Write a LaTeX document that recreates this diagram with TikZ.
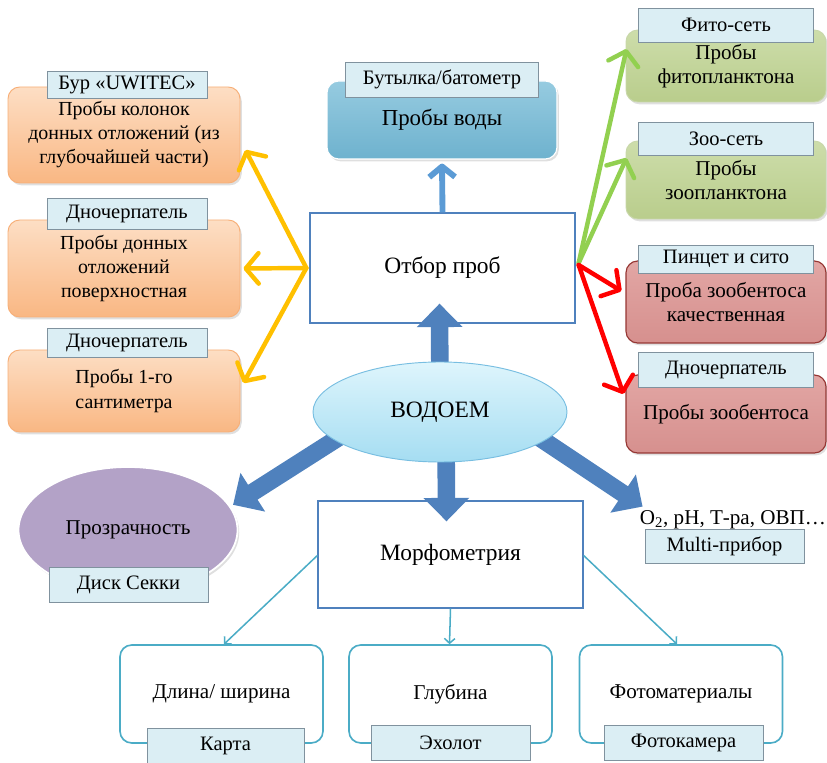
\documentclass[tikz,border=0pt]{standalone}
\usepackage{fontspec}
\setmainfont{Liberation Serif}
\usetikzlibrary{arrows.meta,shapes.geometric,shadows,calc}
\definecolor{orTop}{RGB}{253,222,196}
\definecolor{orBot}{RGB}{249,183,131}
\definecolor{orLine}{RGB}{247,175,120}
\definecolor{grTop}{RGB}{205,221,170}
\definecolor{grBot}{RGB}{185,205,140}
\definecolor{grLine}{RGB}{200,215,170}
\definecolor{rdTop}{RGB}{226,166,164}
\definecolor{rdBot}{RGB}{214,144,142}
\definecolor{rdLine}{RGB}{150,55,52}
\definecolor{wTop}{RGB}{150,203,224}
\definecolor{wBot}{RGB}{110,178,206}
\definecolor{labFill}{RGB}{219,238,244}
\definecolor{labLine}{RGB}{128,146,158}
\definecolor{blk}{RGB}{79,129,189}
\definecolor{upBlue}{RGB}{91,155,213}
\definecolor{orArrow}{RGB}{255,192,0}
\definecolor{grArrow}{RGB}{146,208,80}
\definecolor{rdArrow}{RGB}{255,0,0}
\definecolor{teal}{RGB}{75,172,198}
\definecolor{elTop}{RGB}{222,245,252}
\definecolor{elBot}{RGB}{165,221,242}
\definecolor{elLine}{RGB}{120,190,225}
\definecolor{purp}{RGB}{179,162,199}
\def\pxu{0.03cm}
\begin{document}
\begin{tikzpicture}[x=0.03cm,y=-0.03cm,
  base/.style={font=\fontsize{17.5}{20.5}\selectfont, align=center, inner sep=0pt},
  big/.style={font=\fontsize{20}{22}\selectfont},
  shad/.style={drop shadow={opacity=0.25, shadow xshift=1.5pt, shadow yshift=-2pt}},
  orbox/.style={base, font=\fontsize{17}{20.5}\selectfont, rounded corners=10pt, draw=orLine, line width=0.8pt, top color=orTop, bottom color=orBot, shad, minimum width=232*\pxu},
  grbox/.style={base, font=\fontsize{18}{20.5}\selectfont, rounded corners=10pt, draw=grLine, line width=0.8pt, top color=grTop, bottom color=grBot, shad, minimum width=200*\pxu},
  rdbox/.style={base, font=\fontsize{18}{20.5}\selectfont, rounded corners=10pt, draw=rdLine, line width=1pt, top color=rdTop, bottom color=rdBot, shad, minimum width=200*\pxu},
  wbox/.style={base, font=\fontsize{19.5}{22}\selectfont, rounded corners=10pt, draw=white, line width=1pt, top color=wTop, bottom color=wBot, shad},
  plainbox/.style={base, big, draw=blk, line width=1.1pt, fill=white},
  tbox/.style={base, font=\fontsize{18}{20.5}\selectfont, rounded corners=10pt, draw=teal, line width=1.4pt, fill=white, minimum width=203*\pxu, minimum height=98*\pxu},
  lab/.style={base, draw=labLine, line width=0.7pt, fill=labFill},
  colarrow/.style={line width=3.8pt, line cap=round, -{Straight Barb[length=11pt,width=26pt,line cap=round,line join=round]}},
  blockarrow/.style={draw=blk, line width=15pt, -{Triangle[length=20pt,width=38pt]}},
  thinarrow/.style={draw=teal, line width=1.3pt, -{Straight Barb[length=4pt,width=9pt]}}
]
\useasboundingbox (0,0) rectangle (827,763);

% left orange boxes
\node[orbox, minimum height=96*\pxu] (or1) at (124,135) {Пробы колонок\\донных отложений (из\\глубочайшей части)};
\node[orbox, minimum height=97*\pxu] (or2) at (124,268.5) {Пробы донных\\отложений\\поверхностная};
\node[orbox, minimum height=82*\pxu] (or3) at (124,391) {Пробы 1-го\\сантиметра};

% water
\node[wbox, minimum width=230*\pxu, minimum height=78*\pxu] (water) at (442,120) {Пробы воды};

% center
\node[plainbox, minimum width=265*\pxu, minimum height=110*\pxu] (otbor) at (442.5,268) {Отбор проб};

% right boxes
\node[grbox, minimum height=72*\pxu] (gr1) at (726,66) {Пробы\\фитопланктона};
\node[grbox, minimum height=78*\pxu] (gr2) at (726,180) {Пробы\\зоопланктона};
\node[rdbox, minimum height=82*\pxu] (rd1) at (726,302) {Проба зообентоса\\качественная};
\node[rdbox, minimum height=78*\pxu] (rd2) at (726,414) {Пробы зообентоса};

% purple
\node[base, font=\fontsize{18}{20.5}\selectfont, ellipse, draw=white, line width=1.5pt, fill=purp, shad, minimum width=219*\pxu, minimum height=126*\pxu] (prozr) at (128,530) {Прозрачность};

% morphometry
\node[plainbox, minimum width=265*\pxu, minimum height=107*\pxu] (morf) at (450.5,554.5) {Морфометрия};

% bottom boxes
\node[tbox] (bA) at (221.5,694) {Длина/ ширина};
\node[tbox] (bB) at (450.5,694) {Глубина};
\node[tbox] (bC) at (681,694) {Фотоматериалы};

% O2 text and its label
\node[base, font=\fontsize{18}{20.5}\selectfont] (o2) at (733,520) {O\textsubscript{2}, pH, Т-ра, ОВП…};
\node[lab, minimum width=159*\pxu, minimum height=34*\pxu] (lm) at (724.5,546) {Multi-прибор};

% colored arrows
\draw[colarrow, orArrow] ($(otbor.west)+(-3,0)$) -- ($(or1.east)+(5,15)$);
\draw[colarrow, orArrow] ($(otbor.west)+(-3,0)$) -- ($(or2.east)+(3,0)$);
\draw[colarrow, orArrow] ($(otbor.west)+(-3,0)$) -- ($(or3.east)+(3,-8)$);
\draw[colarrow, grArrow] ($(otbor.east)+(3,-5)$) -- ($(gr1.west)+(1,-17)$);
\draw[colarrow, grArrow] ($(otbor.east)+(3,-5)$) -- ($(gr2.west)+(1,-22)$);
\draw[colarrow, rdArrow] ($(otbor.east)+(3,-3)$) -- ($(rd1.west)+(-4,-11)$);
\draw[colarrow, rdArrow] ($(otbor.east)+(3,-3)$) -- ($(rd2.west)+(-2,-20)$);
\draw[line width=5pt, upBlue, -{Straight Barb[length=9pt,width=22pt,line join=round]}] (otbor.north) -- ($(water.south)+(0,4)$);

% block arrows (drawn below the ellipse)
\coordinate (vc) at (440,412);
\draw[blockarrow] ($(vc)+(0,-10)$) -- ($(otbor.south)+(-3,-20)$);
\draw[blockarrow] ($(vc)+(6,10)$) -- ($(morf.north)+(-4,21)$);
\draw[blockarrow] ($(vc)+(-55,-4)$) -- ($(prozr.north east)+(27,20)$);
\draw[blockarrow] ($(vc)+(55,-4)$) -- ($(lm.north west)+(-2,-22)$);

% ellipse
\node[base, big, ellipse, draw=elLine, line width=0.8pt, top color=elTop, bottom color=elBot, minimum width=254*\pxu, minimum height=100*\pxu] (vod) at (vc) {ВОДОЕМ};

% thin arrows
\draw[thinarrow] ($(morf.west)+(0,1)$) -- ($(bA.north)+(2.5,0)$);
\draw[thinarrow] (morf.south) -- ($(bB.north)+(-1,0)$);
\draw[thinarrow] ($(morf.east)+(0,1)$) -- ($(bC.north)+(-4,0)$);

% labels
\node[lab, minimum width=160*\pxu, minimum height=27*\pxu] (l1) at (127,84.5) {Бур «UWITEC»};
\node[lab, minimum width=160*\pxu, minimum height=31*\pxu] (l2) at (127,213.5) {Дночерпатель};
\node[lab, minimum width=160*\pxu, minimum height=29*\pxu] (l3) at (127,342.5) {Дночерпатель};
\node[lab, minimum width=193*\pxu, minimum height=35*\pxu] (lw) at (442,79.5) {Бутылка/батометр};
\node[lab, minimum width=175*\pxu, minimum height=34*\pxu] (lg1) at (726,25) {Фито-сеть};
\node[lab, minimum width=175*\pxu, minimum height=33*\pxu] (lg2) at (726,138.5) {Зоо-сеть};
\node[lab, minimum width=175*\pxu, minimum height=28*\pxu] (lr1) at (726,259) {Пинцет и сито};
\node[lab, minimum width=175*\pxu, minimum height=35*\pxu] (lr2) at (726,369.5) {Дночерпатель};
\node[lab, minimum width=159*\pxu, minimum height=35*\pxu] (ls) at (128.5,584.5) {Диск Секки};
\node[lab, minimum width=157*\pxu, minimum height=35*\pxu] (lk) at (225.5,745.5) {Карта};
\node[lab, minimum width=159*\pxu, minimum height=35*\pxu] (le) at (450.5,742.5) {Эхолот};
\node[lab, minimum width=159*\pxu, minimum height=35*\pxu] (lf) at (683.5,742.5) {Фотокамера};
\end{tikzpicture}
\end{document}
